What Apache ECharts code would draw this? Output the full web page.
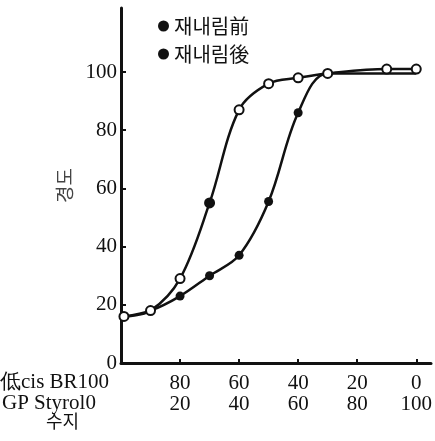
<!DOCTYPE html>
<html>
<head>
<meta charset="utf-8">
<script src="https://cdn.jsdelivr.net/npm/echarts@6/dist/echarts.min.js"></script>
<style>
  html, body { margin: 0; padding: 0; background: #fff; }
  #chart { width: 435px; height: 441px; }
</style>
</head>
<body>
<div id="chart"></div>
<script>
// GP Styrol 함량 (x) 와 경도 (y)
const seriesNames = ['재내림前', '재내림後'];
const upperPoints = [[1, 16], [10, 18], [20, 29], [30, 55], [40, 87], [50, 96], [60, 98], [70, 99.5], [90, 101], [100, 101]];
const lowerPoints = [[1, 16], [10, 18], [20, 23], [30, 30], [40, 37], [50, 55.5], [60, 86], [70, 99.5], [100, 99.5]];
const styrolTicks = [0, 20, 40, 60, 80, 100];
const yTicks = [0, 20, 40, 60, 80, 100];

const serif = '"Liberation Serif", "DejaVu Serif", serif';
const cjk = '"Noto Sans CJK KR", "Noto Sans CJK SC", sans-serif';

const chart = echarts.init(document.getElementById('chart'));

// 위쪽 곡선: 빈 원, 30 지점만 채움
const upperData = upperPoints.map((p, i) => i === 3
  ? { value: p, symbol: 'circle', itemStyle: { color: '#111' } }
  : { value: p });
// 아래쪽 곡선: 채운 원, 처음 두 점과 끝점은 표시 없음
const lowerData = lowerPoints.map((p, i) => (i < 2 || i === lowerPoints.length - 1)
  ? { value: p, symbol: 'none' }
  : { value: p });

chart.setOption({
  animation: false,
  grid: { left: 121, right: 2, top: 8, bottom: 78 },
  legend: {
    orient: 'vertical',
    left: 153,
    top: 11,
    itemGap: 8,
    itemWidth: 11,
    itemHeight: 11,
    textStyle: { fontFamily: cjk, fontSize: 20, color: '#111' },
    data: seriesNames.map(n => ({ name: n, icon: 'circle', itemStyle: { color: '#111', borderWidth: 0 } }))
  },
  xAxis: {
    type: 'value',
    min: 0,
    max: 105,
    axisLine: { lineStyle: { color: '#111', width: 3 } },
    axisTick: { inside: true, length: 4, lineStyle: { color: '#111', width: 2 }, customValues: styrolTicks },
    splitLine: { show: false },
    axisLabel: {
      customValues: styrolTicks.slice(1),
      margin: 10,
      fontFamily: serif,
      fontSize: 21,
      lineHeight: 21,
      color: '#111',
      formatter: v => (100 - v) + '\n' + v
    }
  },
  yAxis: {
    type: 'value',
    min: 0,
    max: 122,
    name: '경도',
    nameLocation: 'middle',
    nameRotate: 90,
    nameGap: 39,
    nameTextStyle: { fontFamily: cjk, fontSize: 19, color: '#444' },
    axisLine: { lineStyle: { color: '#111', width: 3 } },
    axisTick: { inside: true, length: 5, lineStyle: { color: '#111', width: 2 }, customValues: yTicks },
    splitLine: { show: false },
    axisLabel: {
      customValues: yTicks,
      margin: 4,
      fontFamily: serif,
      fontSize: 21,
      color: '#111'
    }
  },
  graphic: [
    { type: 'text', left: 0, top: 372, style: { text: '低cis BR100', font: '21px ' + serif, fill: '#111' } },
    { type: 'text', left: 2, top: 393, style: { text: 'GP Styrol0', font: '21px ' + serif, fill: '#111' } },
    { type: 'text', left: 46, top: 412, style: { text: '수지', font: '18px ' + cjk, fill: '#111' } }
  ],
  series: [
    {
      name: seriesNames[1],
      type: 'line',
      smooth: 0.35,
      clip: false,
      data: lowerData,
      symbol: 'circle',
      symbolSize: 9,
      lineStyle: { color: '#111', width: 2.5 },
      itemStyle: { color: '#111' },
      z: 2
    },
    {
      name: seriesNames[0],
      type: 'line',
      smooth: 0.35,
      clip: false,
      data: upperData,
      symbol: 'emptyCircle',
      symbolSize: 9,
      lineStyle: { color: '#111', width: 2.5 },
      itemStyle: { color: '#111', borderColor: '#111', borderWidth: 2 },
      z: 3
    }
  ]
});
</script>
</body>
</html>
